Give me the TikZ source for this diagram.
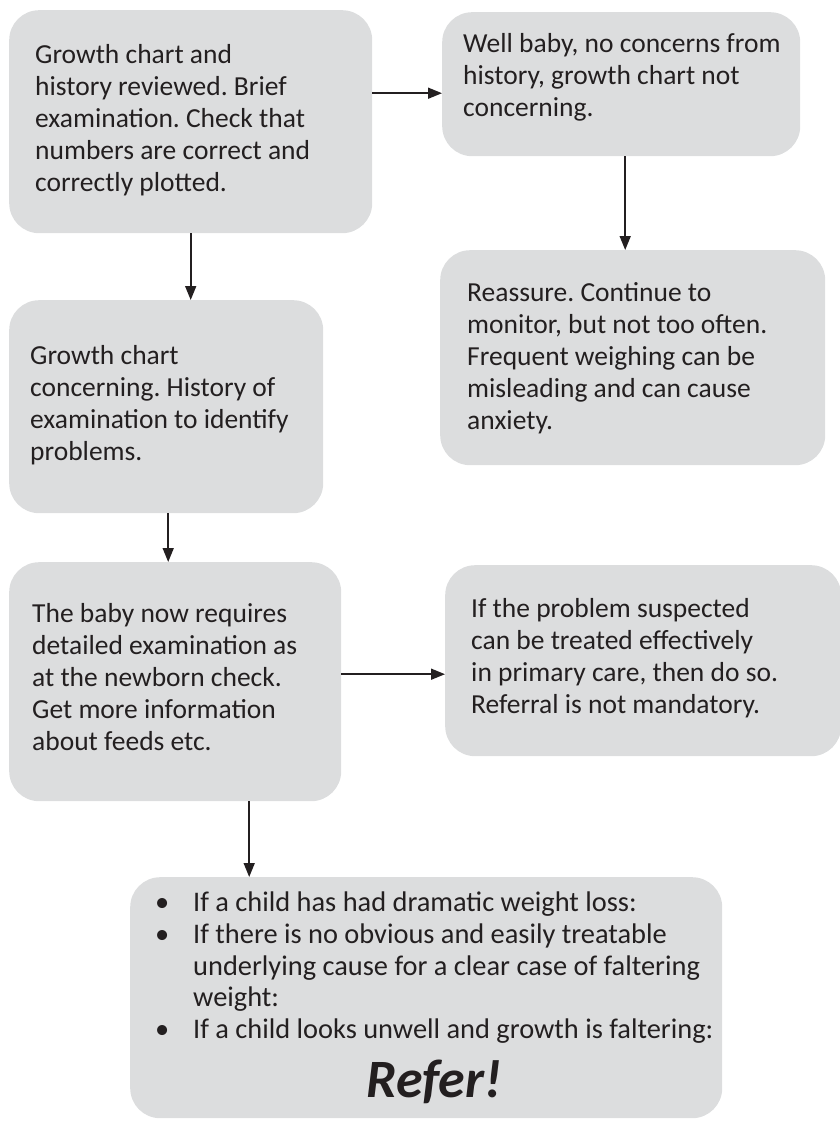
\documentclass[tikz,border=0pt]{standalone}
\usepackage{fontspec}
\setmainfont{Carlito}
\usetikzlibrary{arrows.meta}
\definecolor{boxfill}{HTML}{DCDDDE}
\definecolor{ink}{HTML}{231F20}
\frenchspacing
% #1 box width, #2 left padding, #3 lines of text
\newcommand\flowtext[3]{\makebox[#1][l]{\hspace*{#2}\begin{tabular}{@{}l@{}}#3\end{tabular}}}
\newcommand\bul{\makebox[38pt][l]{\textbullet}}
\tikzset{
  flowbox/.style={rectangle, rounded corners=30pt, fill=boxfill, draw=none,
    text=ink, font=\fontsize{27.5}{32}\selectfont,
    inner sep=0pt, anchor=north west},
  flowarrow/.style={draw=ink, line width=1.6pt,
    -{Triangle[length=14pt,width=11pt]}},
}
\begin{document}
\begin{tikzpicture}[x=1pt,y=-1pt]
\useasboundingbox (0,0) rectangle (839,1127);

\node[flowbox, minimum width=363pt, minimum height=223pt] (review) at (9,10)
  {\flowtext{363pt}{26pt}{Growth chart and\\history reviewed. Brief\\examination. Check that\\numbers are correct and\\correctly plotted.\\[1pt]}};

\node[flowbox, minimum width=358pt, minimum height=144pt] (well) at (442,12)
  {\flowtext{358pt}{21pt}{Well baby, no concerns from\\history, growth chart not\\concerning.\\[12.8pt]}};

\node[flowbox, minimum width=385pt, minimum height=215pt] (reassure) at (440,250)
  {\flowtext{385pt}{27pt}{\rule{0pt}{25pt}Reassure. Continue to\\monitor, but not too often.\\Frequent weighing can be\\misleading and can cause\\anxiety.}};

\node[flowbox, minimum width=314pt, minimum height=213pt] (concern) at (9,300)
  {\flowtext{314pt}{21pt}{Growth chart\\concerning. History of\\examination to identify\\problems.\\[2pt]}};

\node[flowbox, minimum width=332pt, minimum height=239pt] (detail) at (9,562)
  {\flowtext{332pt}{23pt}{The baby now requires\\detailed examination as\\at the newborn check.\\Get more information\\about feeds etc.\\[4pt]}};

\node[flowbox, minimum width=396pt, minimum height=191pt] (primary) at (445,565)
  {\flowtext{396pt}{26pt}{If the problem suspected\\can be treated effectively\\in primary care, then do so.\\Referral is not mandatory.\\[4pt]}};

\node[flowbox, font=\fontsize{28.4}{31.6}\selectfont,
      minimum width=592pt, minimum height=241pt] (refer) at (130,877)
  {\flowtext{592pt}{25pt}{%
   \rule{0pt}{24pt}\bul If a child has had dramatic weight loss:\\
   \bul If there is no obvious and easily treatable\\
   \hspace*{38pt}underlying cause for a clear case of faltering\\
   \hspace*{38pt}weight:\\
   \bul If a child looks unwell and growth is faltering:\\[28pt]
   \multicolumn{1}{c}{\raisebox{0pt}[22pt][0pt]{\fontsize{54}{54}\selectfont\bfseries\itshape Refer!}}}};

% connectors
\draw[flowarrow] ([yshift=28.5pt]review.east) -- ([yshift=28.5pt]review.east -| well.west);
\draw[flowarrow] ([xshift=4pt]well.south) -- ([xshift=4pt]well.south |- reassure.north);
\draw[flowarrow] (review.south) -- (review.south |- concern.north);
\draw[flowarrow] ([xshift=2pt]concern.south) -- ([xshift=2pt]concern.south |- detail.north);
\draw[flowarrow] ([yshift=7.5pt]detail.east) -- ([yshift=7.5pt]detail.east -| primary.west);
\draw[flowarrow] ([xshift=74pt]detail.south) -- ([xshift=74pt]detail.south |- refer.north);
\end{tikzpicture}
\end{document}
